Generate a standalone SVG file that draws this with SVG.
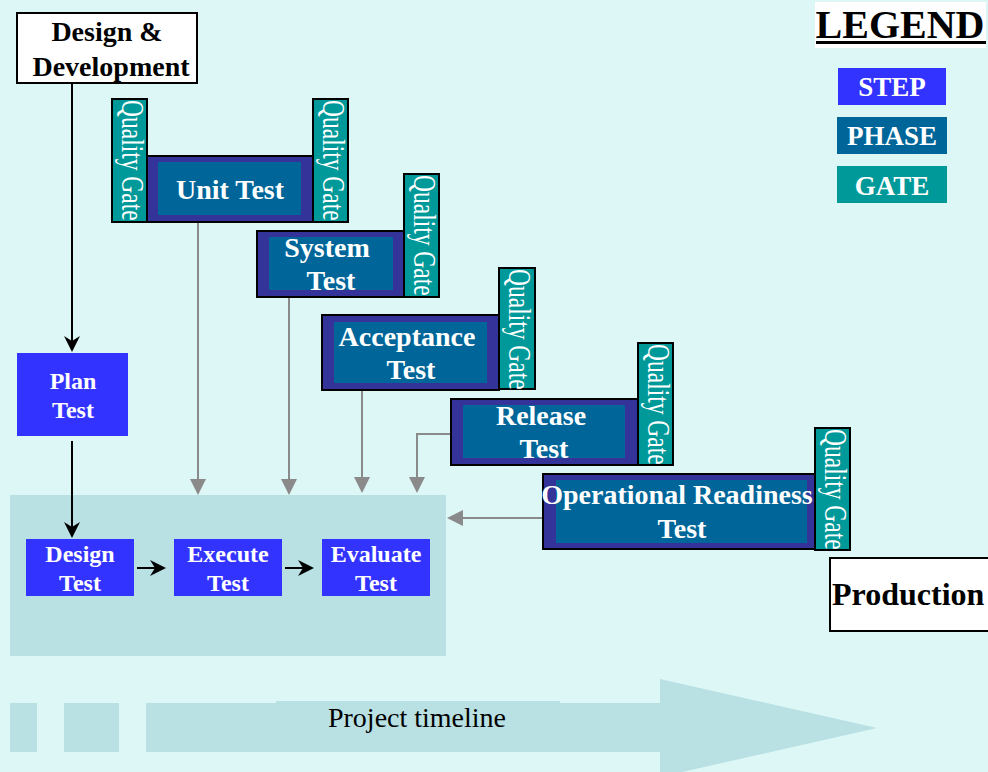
<svg xmlns="http://www.w3.org/2000/svg" width="988" height="772" viewBox="0 0 988 772">
  <defs>
    <style>
      .bold { font-family: "Liberation Serif", "Times New Roman", serif; font-weight: bold; }
      .reg { font-family: "Liberation Serif", "Times New Roman", serif; }
      .step { fill: #3333ff; }
      .stepTxt { fill: #ffffff; font-size: 24px; text-anchor: middle; }
      .phaseOuter { fill: #333399; stroke: #000000; stroke-width: 2; }
      .phaseInner { fill: #006699; }
      .phaseTxt { fill: #ffffff; font-size: 28px; text-anchor: middle; }
      .gate { fill: #009999; stroke: #000000; stroke-width: 2; }
      .gateTxt { fill: #ffffff; font-size: 23.5px; }
      .box { fill: #ffffff; stroke: #000000; stroke-width: 2; }
      .flow { fill: none; stroke: #000000; stroke-width: 2; }
      .feed { fill: none; stroke: #8a8a8a; stroke-width: 2; }
      .band { fill: #b9e0e3; }
    </style>
    <!-- black stealth head: tip sits 9 units past the line end -->
    <marker id="blackHead" viewBox="0 0 16 16" refX="7" refY="8" markerWidth="16" markerHeight="16" markerUnits="userSpaceOnUse" orient="auto">
      <path d="M0,0 L16,8 L0,16 L5,8 z" fill="#000000"/>
    </marker>
    <!-- grey triangle head: tip sits 8 units past the line end -->
    <marker id="grayHead" viewBox="0 0 16 16" refX="8" refY="8" markerWidth="16" markerHeight="16" markerUnits="userSpaceOnUse" orient="auto">
      <path d="M0,0 L16,8 L0,16 z" fill="#8a8a8a"/>
    </marker>
  </defs>

  <!-- page background -->
  <rect x="0" y="0" width="988" height="772" fill="#ddf7f7"/>

  <!-- project timeline band -->
  <g id="timeline">
    <rect class="band" x="10" y="703" width="27" height="49"/>
    <rect class="band" x="64" y="703" width="55" height="49"/>
    <path class="band" d="M146,703 L660,703 L660,679 L877,728 L660,777 L660,752 L146,752 z"/>
    <rect class="band" x="276" y="701" width="284" height="4"/>
    <text class="reg" x="417" y="727" font-size="28" text-anchor="middle" fill="#000000">Project timeline</text>
  </g>

  <!-- test activity panel -->
  <rect id="test-panel" x="10" y="495" width="436" height="161" fill="#b9e0e3"/>

  <!-- connectors -->
  <g id="connectors">
    <line class="flow" x1="72" y1="83" x2="72" y2="343" marker-end="url(#blackHead)"/>
    <line class="flow" x1="72" y1="441" x2="72" y2="529" marker-end="url(#blackHead)"/>
    <line class="flow" x1="137" y1="568" x2="157" y2="568" marker-end="url(#blackHead)"/>
    <line class="flow" x1="285" y1="568" x2="305" y2="568" marker-end="url(#blackHead)"/>
    <line class="feed" x1="198" y1="222" x2="198" y2="487" marker-end="url(#grayHead)"/>
    <line class="feed" x1="289" y1="297" x2="289" y2="487" marker-end="url(#grayHead)"/>
    <line class="feed" x1="362" y1="390" x2="362" y2="485" marker-end="url(#grayHead)"/>
    <polyline class="feed" points="451,434 417,434 417,485" marker-end="url(#grayHead)"/>
    <line class="feed" x1="543" y1="518" x2="455" y2="518" marker-end="url(#grayHead)"/>
  </g>

  <!-- Design & Development -->
  <g id="design-development">
    <rect class="box" x="17" y="13" width="180" height="70"/>
    <text class="bold" x="107" y="41" font-size="28" text-anchor="middle">Design &amp;</text>
    <text class="bold" x="111" y="76" font-size="28" text-anchor="middle">Development</text>
  </g>

  <!-- steps -->
  <g id="plan-test">
    <rect class="step" x="17" y="353" width="111" height="83"/>
    <text class="bold stepTxt" x="73" y="389">Plan</text>
    <text class="bold stepTxt" x="73" y="418">Test</text>
  </g>
  <g id="design-test">
    <rect class="step" x="26" y="539" width="108" height="57"/>
    <text class="bold stepTxt" x="80" y="562">Design</text>
    <text class="bold stepTxt" x="80" y="591">Test</text>
  </g>
  <g id="execute-test">
    <rect class="step" x="174" y="539" width="108" height="57"/>
    <text class="bold stepTxt" x="228" y="562">Execute</text>
    <text class="bold stepTxt" x="228" y="591">Test</text>
  </g>
  <g id="evaluate-test">
    <rect class="step" x="322" y="539" width="108" height="57"/>
    <text class="bold stepTxt" x="376" y="562">Evaluate</text>
    <text class="bold stepTxt" x="376" y="591">Test</text>
  </g>

  <!-- phases with quality gates -->
  <g id="unit-test">
    <rect class="gate" x="112" y="99" width="35" height="123"/>
    <text class="reg gateTxt" transform="translate(122,100) rotate(90) scale(1,1.3)">Quality Gate</text>
    <rect class="phaseOuter" x="147" y="156" width="166" height="66"/>
    <rect class="phaseInner" x="158" y="162" width="143" height="53"/>
    <text class="bold phaseTxt" x="230" y="199">Unit Test</text>
    <rect class="gate" x="313" y="99" width="35" height="123"/>
    <text class="reg gateTxt" transform="translate(323,100) rotate(90) scale(1,1.3)">Quality Gate</text>
  </g>

  <g id="system-test">
    <rect class="phaseOuter" x="257" y="231" width="147" height="66"/>
    <rect class="phaseInner" x="269" y="237" width="124" height="53"/>
    <text class="bold phaseTxt" x="327" y="257">System</text>
    <text class="bold phaseTxt" x="331" y="290">Test</text>
    <rect class="gate" x="404" y="174" width="35" height="123"/>
    <text class="reg gateTxt" transform="translate(414,175) rotate(90) scale(1,1.3)">Quality Gate</text>
  </g>

  <g id="acceptance-test">
    <rect class="phaseOuter" x="322" y="315" width="177" height="75"/>
    <rect class="phaseInner" x="334" y="322" width="153" height="61"/>
    <text class="bold phaseTxt" x="407" y="346">Acceptance</text>
    <text class="bold phaseTxt" x="411" y="379">Test</text>
    <rect class="gate" x="499" y="268" width="36" height="121"/>
    <text class="reg gateTxt" transform="translate(509,269) rotate(90) scale(1,1.3)">Quality Gate</text>
  </g>

  <g id="release-test">
    <rect class="phaseOuter" x="451" y="399" width="187" height="66"/>
    <rect class="phaseInner" x="463" y="405" width="162" height="53"/>
    <text class="bold phaseTxt" x="541" y="425">Release</text>
    <text class="bold phaseTxt" x="544" y="458">Test</text>
    <rect class="gate" x="638" y="343" width="35" height="122"/>
    <text class="reg gateTxt" transform="translate(648,344) rotate(90) scale(1,1.3)">Quality Gate</text>
  </g>

  <g id="operational-readiness-test">
    <rect class="phaseOuter" x="543" y="474" width="272" height="75"/>
    <rect class="phaseInner" x="556" y="480" width="251" height="63"/>
    <text class="bold phaseTxt" x="677" y="504">Operational Readiness</text>
    <text class="bold phaseTxt" x="682" y="538">Test</text>
    <rect class="gate" x="815" y="428" width="35" height="122"/>
    <text class="reg gateTxt" transform="translate(825,429) rotate(90) scale(1,1.3)">Quality Gate</text>
  </g>

  <!-- Production -->
  <g id="production">
    <rect class="box" x="830" y="558" width="162" height="73"/>
    <text class="bold" x="832" y="605" font-size="32">Production</text>
  </g>

  <!-- legend -->
  <g id="legend">
    <rect x="815" y="2" width="171" height="46" fill="#ffffff"/>
    <text class="bold" x="900" y="38" font-size="40" text-anchor="middle">LEGEND</text>
    <rect x="816" y="41" width="170" height="3" fill="#000000"/>
    <rect x="838" y="68" width="108" height="37" fill="#3333ff"/>
    <text class="bold" x="892" y="96" font-size="27" fill="#ffffff" text-anchor="middle">STEP</text>
    <rect x="837" y="117" width="110" height="37" fill="#006699"/>
    <text class="bold" x="892" y="145" font-size="27" fill="#ffffff" text-anchor="middle">PHASE</text>
    <rect x="837" y="166" width="110" height="37" fill="#009999"/>
    <text class="bold" x="892" y="195" font-size="27" fill="#ffffff" text-anchor="middle">GATE</text>
  </g>
</svg>
